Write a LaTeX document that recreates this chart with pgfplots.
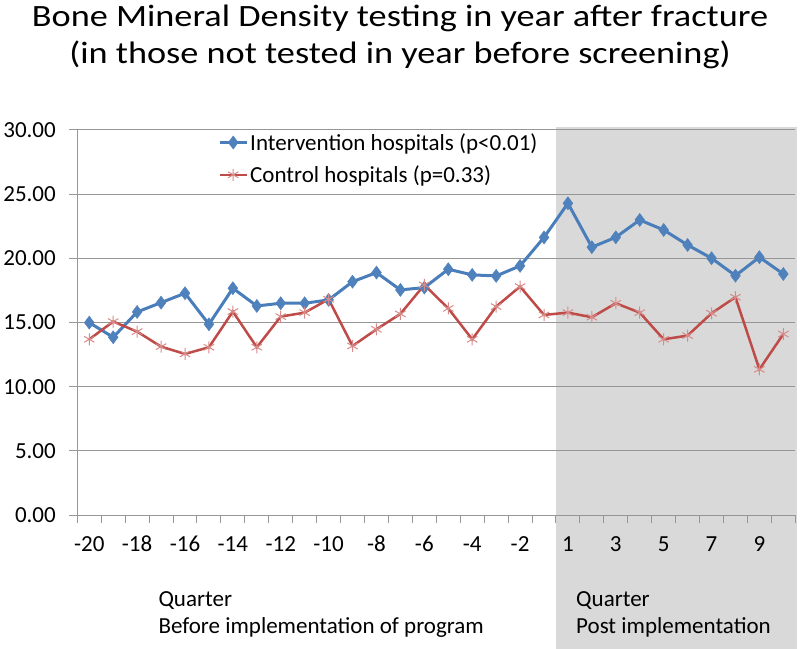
\documentclass[border=0pt]{standalone}
\usepackage{fontspec}
\setmainfont{Carlito}
\usepackage{pgfplots}
\pgfplotsset{compat=1.18}
\definecolor{bgray}{HTML}{D9D9D9}
\definecolor{ggray}{HTML}{969696}
\definecolor{iblue}{HTML}{4A7EBB}
\definecolor{mblue}{HTML}{4F81BD}
\definecolor{cred}{HTML}{BE4B48}
\definecolor{mred}{HTML}{D88A88}
\begin{document}
\begin{tikzpicture}
\begin{axis}[
  set layers,
  scale only axis,
  width=718bp, height=385bp,
  clip=false,
  xmin=-0.5, xmax=29.5,
  ymin=0, ymax=30,
  axis x line*=bottom, axis y line*=left,
  axis line style={draw=ggray, line width=1bp, -},
  tick align=outside,
  major tick length=8bp,
  tick style={draw=ggray, line width=1bp},
  xtick={-0.5,0.5,...,29.5},
  xticklabels={},
  extra x ticks={0,2,4,6,8,10,12,14,16,18,20,22,24,26,28},
  extra x tick labels={-20,-18,-16,-14,-12,-10,-8,-6,-4,-2,1,3,5,7,9},
  extra x tick style={major tick length=0pt, grid=none,
    xticklabel style={anchor=base, yshift=-36.7bp}},
  ytick={0,5,...,30},
  ymajorgrids,
  grid style={draw=ggray, line width=1bp},
  /pgf/number format/assume math mode=true,
  yticklabel style={/pgf/number format/fixed, /pgf/number format/fixed zerofill, /pgf/number format/precision=2, xshift=-10bp},
  ticklabel style={font=\fontsize{23bp}{27bp}\selectfont, text=black},
  legend style={at={(0.196,0.997)}, anchor=north west, draw=none, fill=none,
    font=\fontsize{23bp}{27bp}\selectfont, inner sep=0pt, row sep=10bp,
    /tikz/every even column/.append style={column sep=1bp}},
  legend cell align=left,
  legend image code/.code={\draw[mark repeat=2,mark phase=2,#1] plot coordinates {(0bp,0bp) (13.5bp,0bp) (27bp,0bp)};},
]
\begin{pgfonlayer}{axis background}
\fill[bgray] (axis cs:19.5,-10.6) rectangle (axis cs:29.56,30.23);
\end{pgfonlayer}
\addplot[iblue, line width=3bp, mark=diamond*, mark size=6.5bp, mark options={fill=mblue, draw=mblue, line width=0.5bp}]
coordinates {
(0,14.99) (1,13.85) (2,15.82) (3,16.55) (4,17.28) (5,14.86) (6,17.67) (7,16.29) (8,16.50) (9,16.50)
(10,16.76) (11,18.18) (12,18.89) (13,17.54) (14,17.72) (15,19.15) (16,18.71) (17,18.63) (18,19.41) (19,21.63)
(20,24.29) (21,20.87) (22,21.64) (23,22.99) (24,22.21) (25,21.04) (26,20.01) (27,18.65) (28,20.09) (29,18.78)
};
\addlegendentry{Intervention hospitals (p<0.01)}
\addplot[cred, line width=2.5bp, mark=asterisk, mark size=6bp, mark options={draw=mred, line width=1bp}]
coordinates {
(0,13.69) (1,15.07) (2,14.29) (3,13.12) (4,12.55) (5,13.07) (6,15.85) (7,13.07) (8,15.46) (9,15.77)
(10,16.81) (11,13.17) (12,14.47) (13,15.67) (14,17.93) (15,16.10) (16,13.69) (17,16.24) (18,17.80) (19,15.59)
(20,15.77) (21,15.41) (22,16.50) (23,15.77) (24,13.69) (25,13.98) (26,15.72) (27,16.97) (28,11.35) (29,14.10)
};
\addlegendentry{Control hospitals (p=0.33)}
\end{axis}
\node[anchor=base, font=\fontsize{31bp}{36bp}\selectfont] at (322.7bp,488.3bp) {\scalebox{1.17}[1]{Bone Mineral Density testing in year after fracture}};
\node[anchor=base, font=\fontsize{31bp}{36bp}\selectfont] at (322.7bp,451bp) {\scalebox{1.17}[1]{(in those not tested in year before screening)}};
\node[anchor=base west, inner sep=0pt, font=\fontsize{23bp}{27bp}\selectfont] at (81bp,-91bp) {Quarter};
\node[anchor=base west, inner sep=0pt, font=\fontsize{23bp}{27bp}\selectfont] at (81bp,-118bp) {Before implementation of program};
\node[anchor=base west, inner sep=0pt, font=\fontsize{23bp}{27bp}\selectfont] at (498.7bp,-91bp) {Quarter};
\node[anchor=base west, inner sep=0pt, font=\fontsize{23bp}{27bp}\selectfont] at (498.7bp,-118bp) {Post implementation};
\pgfresetboundingbox
\path[use as bounding box] (-77.3bp,-134bp) rectangle (722.7bp,515bp);
\end{tikzpicture}
\end{document}
